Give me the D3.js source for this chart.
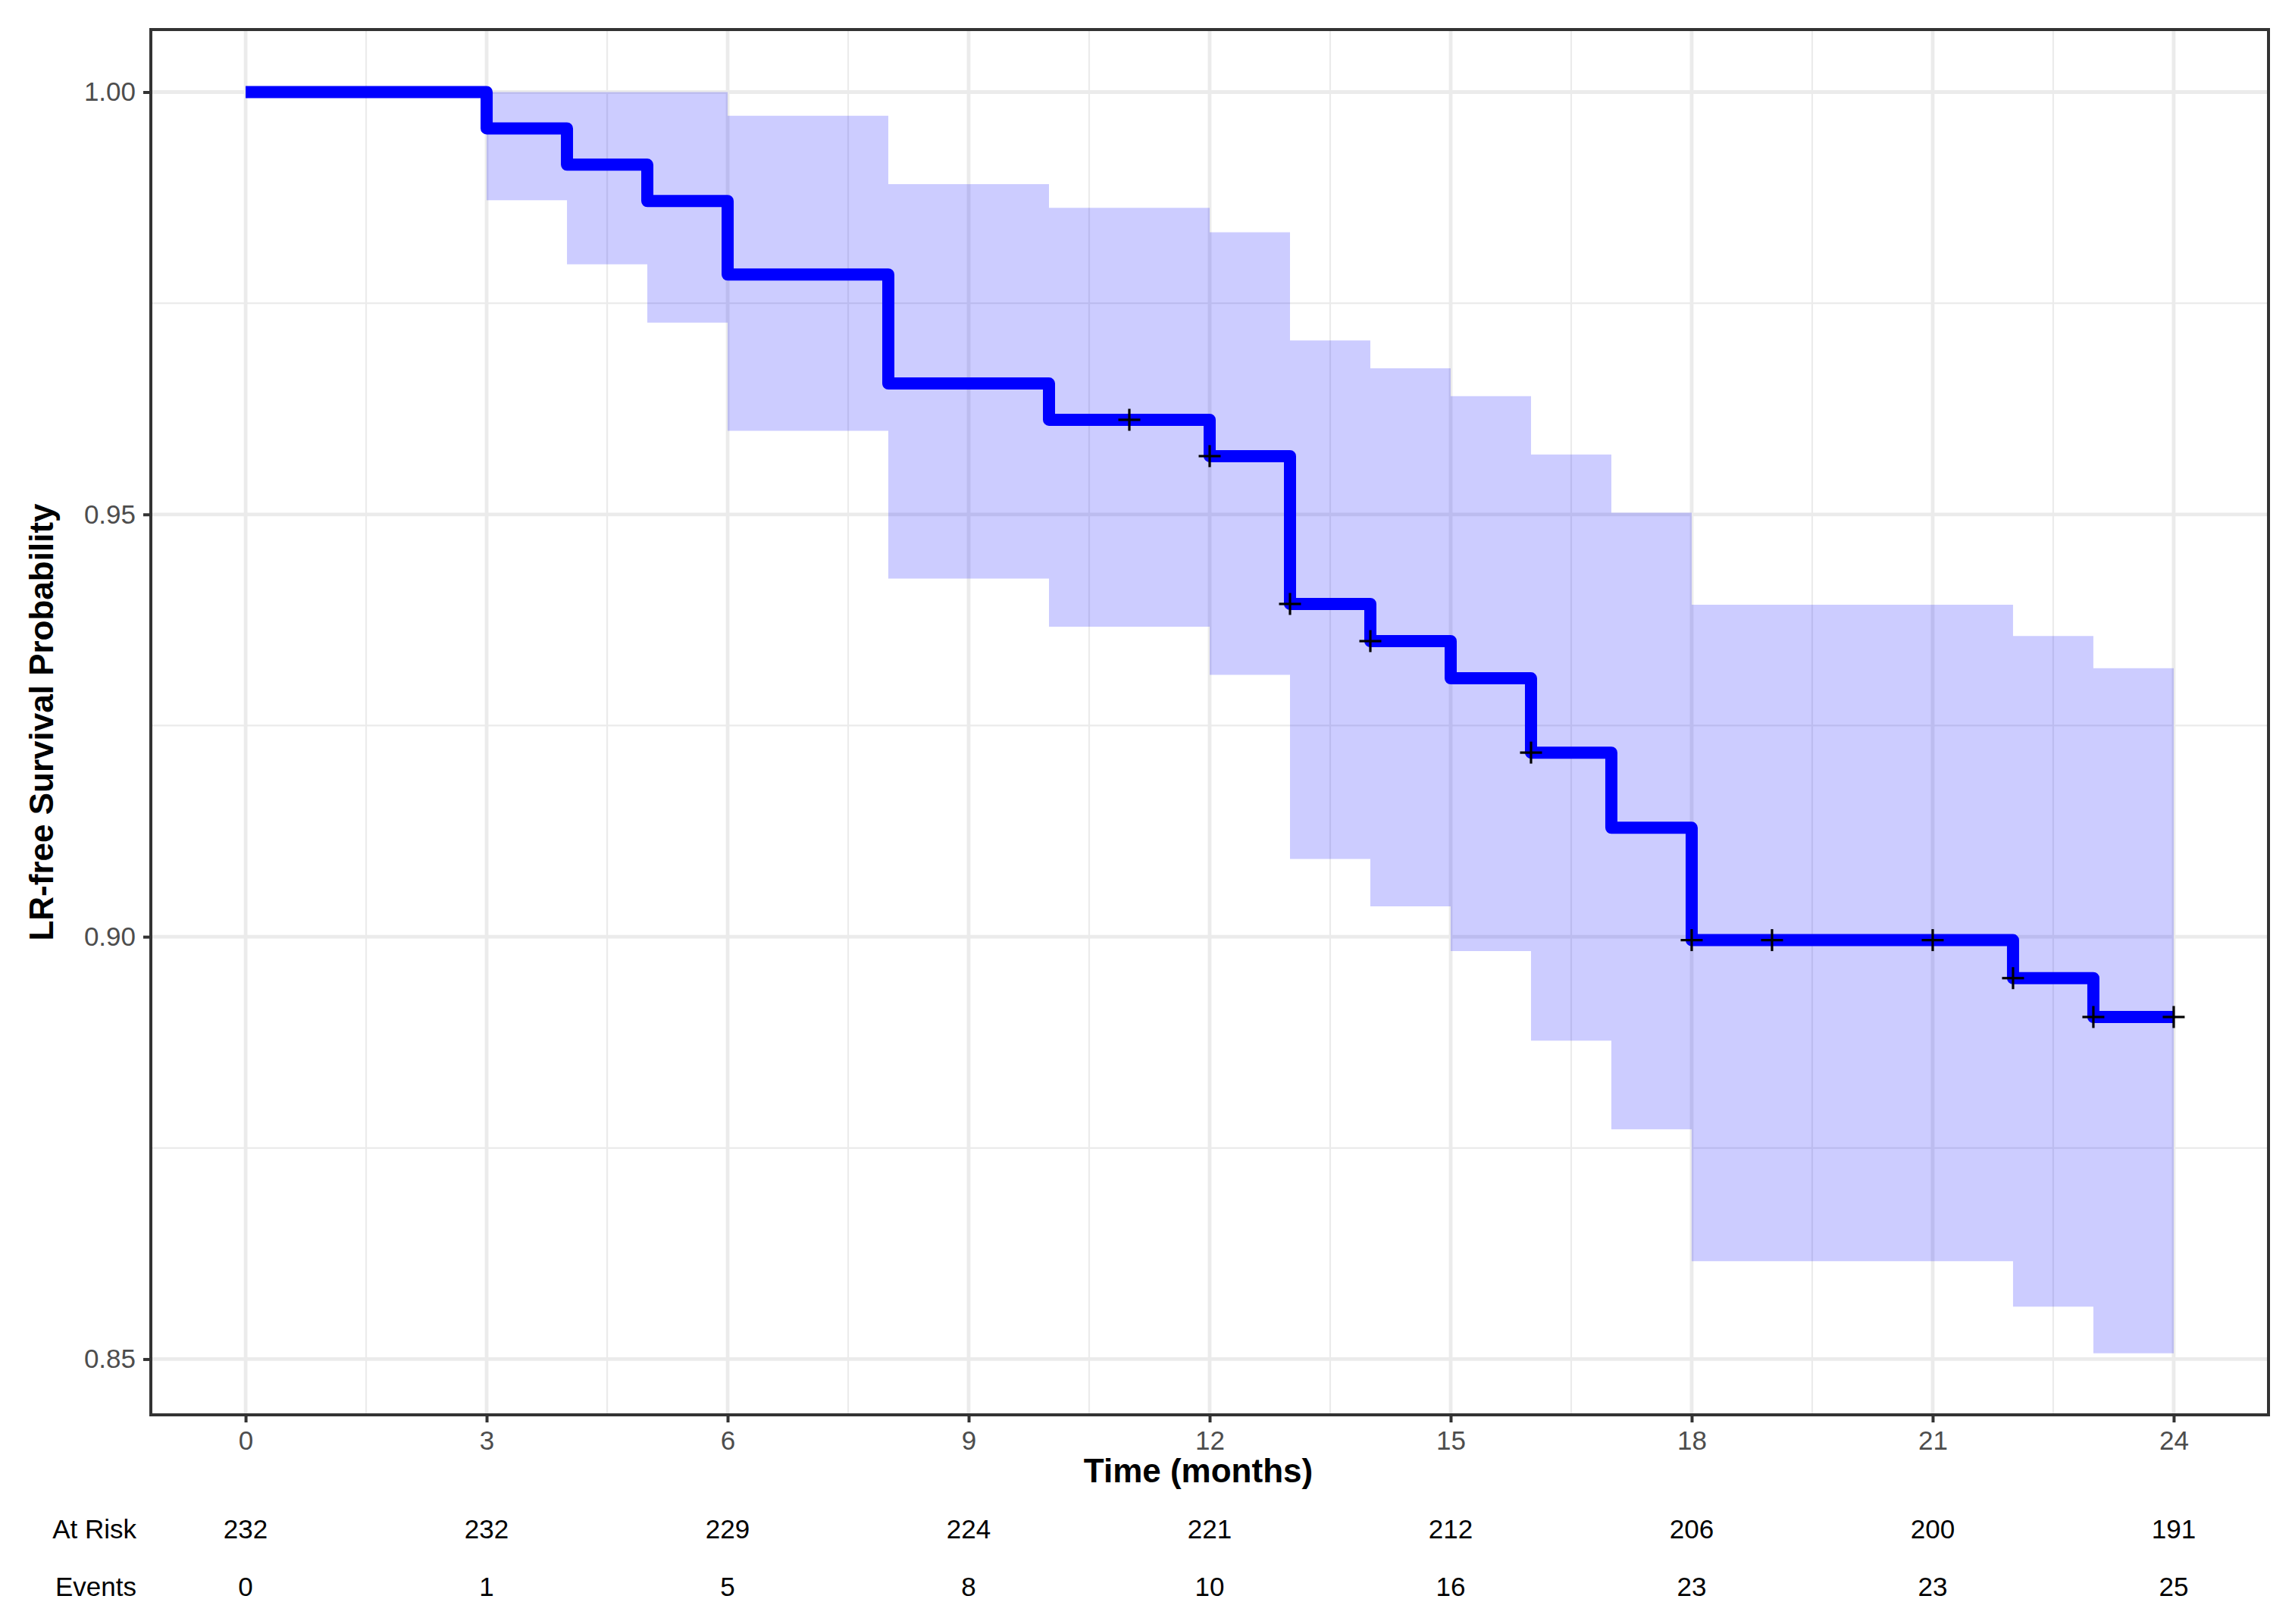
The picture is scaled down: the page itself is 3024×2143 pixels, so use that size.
<!DOCTYPE html>
<html>
<head>
<meta charset="utf-8">
<script src="https://cdn.jsdelivr.net/npm/d3@7"></script>
<style>
  body { margin: 0; background: #fff; }
  text { font-family: "Liberation Sans", Arial, sans-serif; }
</style>
</head>
<body>
<div id="chart"></div>
<script>
// Kaplan-Meier step values
const stepTimes = [0, 3, 4, 5, 6, 8, 10, 12, 13, 14, 15, 16, 17, 18, 22, 23];
const survival = [1, 0.9957, 0.9914, 0.9871, 0.9784, 0.9655, 0.9612, 0.9569, 0.9394, 0.9350, 0.9306, 0.9218, 0.9129, 0.8996, 0.8951, 0.8905];
const upperCI = [1, 1, 1, 1, 0.9972, 0.9891, 0.9863, 0.9834, 0.9706, 0.9673, 0.9640, 0.9571, 0.9502, 0.9393, 0.9356, 0.9318];
const lowerCI = [1, 0.9872, 0.9796, 0.9727, 0.9599, 0.9424, 0.9367, 0.9310, 0.9092, 0.9036, 0.8983, 0.8877, 0.8772, 0.8616, 0.8562, 0.8507];
const endTime = 24;

// censored observations (+ marks)
const censorTimes = [11, 12, 13, 14, 16, 18, 19, 21, 22, 23, 24];

// axis ticks and risk table
const xTicks = [0, 3, 6, 9, 12, 15, 18, 21, 24];
const yTicks = [0.85, 0.90, 0.95, 1.00];
const atRisk = [232, 232, 229, 224, 221, 212, 206, 200, 191];
const events = [0, 1, 5, 8, 10, 16, 23, 23, 25];

const width = 3024;
const height = 2143;
const panel = { left: 199, right: 2993, top: 39, bottom: 1867 };

const svg = d3.select('#chart')
  .append('svg')
  .attr('width', width)
  .attr('height', height);

const x = d3.scaleLinear()
  .domain([-1.18, 25.18])
  .range([panel.left, panel.right]);

const y = d3.scaleLinear()
  .domain([0.8434, 1.0074])
  .range([panel.bottom, panel.top]);

// step data incl. the closing point at 24 months
const steps = stepTimes.map((t, i) => ({ t: t, s: survival[i], lo: lowerCI[i], hi: upperCI[i] }));
steps.push(Object.assign({}, steps[steps.length - 1], { t: endTime }));

function survAt(t) {
  let idx = d3.bisectRight(stepTimes, t) - 1;
  return survival[idx];
}

// minor grid
const xMinor = xTicks.slice(0, -1).map((d, i) => (d + xTicks[i + 1]) / 2);
const yMinor = yTicks.slice(0, -1).map((d, i) => (d + yTicks[i + 1]) / 2);

const grid = svg.append('g');
grid.selectAll('.vminor').data(xMinor).join('line')
  .attr('x1', d => x(d)).attr('x2', d => x(d))
  .attr('y1', panel.top).attr('y2', panel.bottom)
  .attr('stroke', '#EBEBEB').attr('stroke-width', 2.2);
grid.selectAll('.hminor').data(yMinor).join('line')
  .attr('y1', d => y(d)).attr('y2', d => y(d))
  .attr('x1', panel.left).attr('x2', panel.right)
  .attr('stroke', '#EBEBEB').attr('stroke-width', 2.2);
grid.selectAll('.vmajor').data(xTicks).join('line')
  .attr('x1', d => x(d)).attr('x2', d => x(d))
  .attr('y1', panel.top).attr('y2', panel.bottom)
  .attr('stroke', '#EBEBEB').attr('stroke-width', 4.8);
grid.selectAll('.hmajor').data(yTicks).join('line')
  .attr('y1', d => y(d)).attr('y2', d => y(d))
  .attr('x1', panel.left).attr('x2', panel.right)
  .attr('stroke', '#EBEBEB').attr('stroke-width', 4.8);

// confidence band
const area = d3.area()
  .curve(d3.curveStepAfter)
  .x(d => x(d.t))
  .y0(d => y(d.lo))
  .y1(d => y(d.hi));

svg.append('path')
  .datum(steps)
  .attr('d', area)
  .attr('fill', 'blue')
  .attr('fill-opacity', 0.2);

// survival curve
const line = d3.line()
  .curve(d3.curveStepAfter)
  .x(d => x(d.t))
  .y(d => y(d.s));

svg.append('path')
  .datum(steps)
  .attr('d', line)
  .attr('fill', 'none')
  .attr('stroke', 'blue')
  .attr('stroke-width', 16)
  .attr('stroke-linejoin', 'round')
  .attr('stroke-linecap', 'butt');

// censor marks
const cross = 14.5;
const marks = svg.append('g').attr('stroke', '#000').attr('stroke-width', 3.2);
censorTimes.forEach(t => {
  const cx = x(t), cy = y(survAt(t));
  marks.append('line').attr('x1', cx - cross).attr('x2', cx + cross).attr('y1', cy).attr('y2', cy);
  marks.append('line').attr('x1', cx).attr('x2', cx).attr('y1', cy - cross).attr('y2', cy + cross);
});

// panel border
svg.append('rect')
  .attr('x', panel.left).attr('y', panel.top)
  .attr('width', panel.right - panel.left)
  .attr('height', panel.bottom - panel.top)
  .attr('fill', 'none')
  .attr('stroke', '#333333')
  .attr('stroke-width', 4);

// axes
function xAxis(g) {
  g.attr('transform', `translate(0,${panel.bottom})`)
    .call(d3.axisBottom(x).tickValues(xTicks).tickSize(10).tickPadding(11).tickFormat(d3.format('d')))
    .call(g => g.select('.domain').remove())
    .call(g => g.selectAll('line').attr('stroke', '#333333').attr('stroke-width', 4))
    .call(g => g.selectAll('text').attr('fill', '#4D4D4D').attr('font-size', 35));
}

function yAxis(g) {
  g.attr('transform', `translate(${panel.left},0)`)
    .call(d3.axisLeft(y).tickValues(yTicks).tickSize(10).tickPadding(10).tickFormat(d3.format('.2f')))
    .call(g => g.select('.domain').remove())
    .call(g => g.selectAll('line').attr('stroke', '#333333').attr('stroke-width', 4))
    .call(g => g.selectAll('text').attr('fill', '#4D4D4D').attr('font-size', 35));
}

svg.append('g').call(xAxis);
svg.append('g').call(yAxis);

// axis titles
svg.append('text')
  .attr('x', 1581).attr('y', 1956)
  .attr('text-anchor', 'middle')
  .attr('font-size', 44).attr('font-weight', 'bold')
  .text('Time (months)');

svg.append('text')
  .attr('transform', `translate(70,${(panel.top + panel.bottom) / 2}) rotate(-90)`)
  .attr('text-anchor', 'middle')
  .attr('font-size', 44).attr('font-weight', 'bold')
  .text('LR-free Survival Probability');

// risk table
const table = svg.append('g').attr('font-size', 35).attr('fill', '#000');
table.append('text').attr('x', 180).attr('y', 2030).attr('text-anchor', 'end').text('At Risk');
table.append('text').attr('x', 180).attr('y', 2106).attr('text-anchor', 'end').text('Events');
table.selectAll('.risk').data(atRisk).join('text')
  .attr('x', (d, i) => x(xTicks[i])).attr('y', 2030)
  .attr('text-anchor', 'middle')
  .text(d => d);
table.selectAll('.ev').data(events).join('text')
  .attr('x', (d, i) => x(xTicks[i])).attr('y', 2106)
  .attr('text-anchor', 'middle')
  .text(d => d);
</script>
</body>
</html>
